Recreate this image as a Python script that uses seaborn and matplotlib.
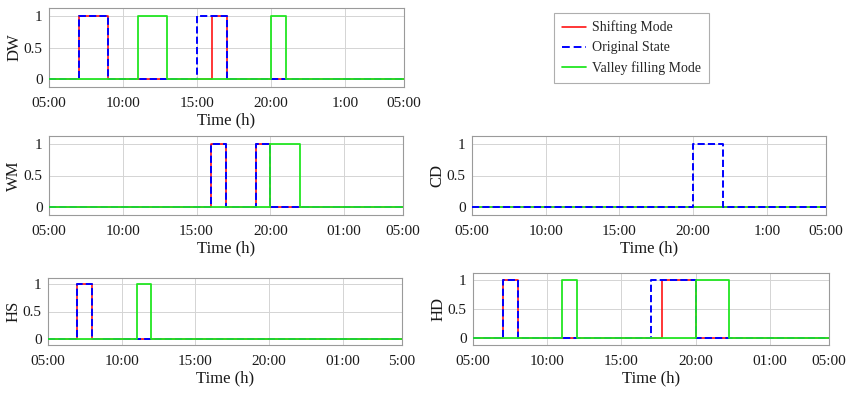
import numpy as np
import pandas as pd
import matplotlib
matplotlib.use("Agg")
import matplotlib.pyplot as plt
from matplotlib.lines import Line2D
import seaborn as sns

# ---- data (hours on a 05:00 -> 05:00 next-day axis; 25 = 01:00, 29 = 05:00) ----
t_start, t_end = 5, 29
tick_pos = [5, 10, 15, 20, 25, 29]

dw_shift = [(7, 9), (16, 17)]
dw_orig = [(7, 9), (15, 17)]
dw_valley = [(11, 13), (20, 21)]

wm_shift = [(16, 17), (19, 20)]
wm_orig = [(16, 17), (19, 20)]
wm_valley = [(20, 22)]

cd_shift = []
cd_orig = [(20, 22)]
cd_valley = []

hs_shift = [(7, 8)]
hs_orig = [(7, 8)]
hs_valley = [(11, 12)]

hd_shift = [(7, 8), (17.75, 20)]
hd_orig = [(7, 8), (17, 20)]
hd_valley = [(11, 12), (20, 22.25)]

ticks_dw = ["05:00", "10:00", "15:00", "20:00", "1:00", "05:00"]
ticks_wm = ["05:00", "10:00", "15:00", "20:00", "01:00", "05:00"]
ticks_cd = ["05:00", "10:00", "15:00", "20:00", "1:00", "05:00"]
ticks_hs = ["05:00", "10:00", "15:00", "20:00", "01:00", "5:00"]
ticks_hd = ["05:00", "10:00", "15:00", "20:00", "01:00", "05:00"]

labels = ["Shifting Mode", "Original State", "Valley filling Mode"]


def square_wave(intervals):
    xs, ys = [t_start], [0]
    for a, b in intervals:
        xs += [a, a, b, b]
        ys += [0, 1, 1, 0]
    xs.append(t_end)
    ys.append(0)
    return pd.DataFrame({"t": xs, "state": ys})


sns.set_style("white")
plt.rcParams["font.family"] = ["Liberation Serif", "DejaVu Serif"]

W, H = 850, 395
fig = plt.figure(figsize=(W / 100, H / 100), dpi=100)


def px_axes(left, right, top, bottom):
    return fig.add_axes([left / W, 1 - bottom / H, (right - left) / W, (bottom - top) / H])


RED = "#ff0000"
BLUE = "#0000ff"
GREEN = "#22e622"
TXT = "#1a1a1a"
DASH = (4, 2)

panels = [
    ("DW", (49, 404, 8, 87), dw_shift, dw_orig, dw_valley, ticks_dw, (-0.12, 1.12)),
    ("WM", (49, 403, 136, 215), wm_shift, wm_orig, wm_valley, ticks_wm, (-0.12, 1.12)),
    ("CD", (472, 826, 136, 215), cd_shift, cd_orig, cd_valley, ticks_cd, (-0.12, 1.12)),
    ("HS", (48, 402, 278, 345), hs_shift, hs_orig, hs_valley, ticks_hs, (-0.11, 1.11)),
    ("HD", (473, 829, 273, 345), hd_shift, hd_orig, hd_valley, ticks_hd, (-0.12, 1.13)),
]

for name, box, sh, og, vf, tl, ylim in panels:
    ax = px_axes(*box)
    blue_on_top = name == "CD"
    sns.lineplot(data=square_wave(sh), x="t", y="state", ax=ax, color=RED, lw=1.1,
                 estimator=None, sort=False, zorder=3)
    sns.lineplot(data=square_wave(og), x="t", y="state", ax=ax, color=BLUE, lw=1.4,
                 estimator=None, sort=False, dashes=DASH, linestyle="--",
                 zorder=5 if blue_on_top else 4)
    sns.lineplot(data=square_wave(vf), x="t", y="state", ax=ax, color=GREEN, lw=1.3,
                 estimator=None, sort=False, zorder=4 if blue_on_top else 5)
    ax.set_xlim(t_start, t_end)
    ax.set_ylim(*ylim)
    ax.set_xticks(tick_pos)
    ax.set_xticklabels(tl)
    ax.set_yticks([0, 0.5, 1])
    ax.set_yticklabels(["0", "0.5", "1"])
    ax.grid(True, color="#d4d4d4", lw=0.7)
    ax.set_axisbelow(True)
    for s in ax.spines.values():
        s.set_color("#9a9a9a")
        s.set_linewidth(0.8)
    ax.tick_params(axis="both", labelsize=11, colors="#9a9a9a", labelcolor=TXT,
                   direction="in", length=2)
    ax.tick_params(axis="x", pad=7.5)
    ax.tick_params(axis="y", pad=4.5)
    ax.set_ylabel(name, fontsize=12, color=TXT, labelpad=1)
    ax.set_xlabel("Time (h)", fontsize=12, color=TXT, labelpad=1.5)

handles = [
    Line2D([], [], color=RED, lw=1.1),
    Line2D([], [], color=BLUE, lw=1.4, linestyle=(0, DASH)),
    Line2D([], [], color=GREEN, lw=1.3),
]
leg = fig.legend(handles, labels, loc="upper left",
                 bbox_to_anchor=(554 / W, 1 - 13 / H), borderaxespad=0, fontsize=10,
                 frameon=True, fancybox=False, edgecolor="#9a9a9a",
                 handlelength=1.75, labelspacing=0.5, borderpad=0.55, handletextpad=0.45)
leg.get_frame().set_linewidth(0.8)

fig.savefig("out.png", dpi=100, facecolor="white")
